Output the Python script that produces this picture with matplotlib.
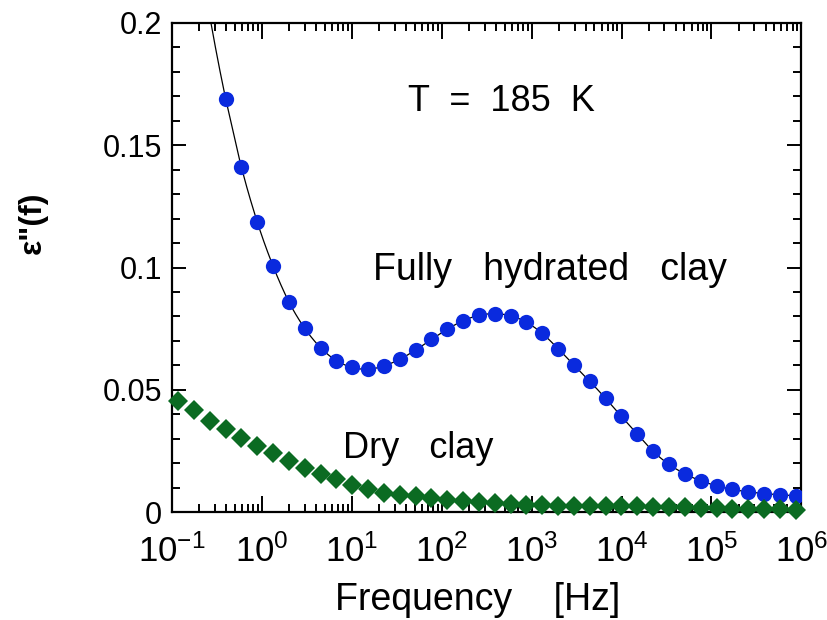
import matplotlib
matplotlib.use("Agg")
import matplotlib.pyplot as plt
import numpy as np
from matplotlib.ticker import FixedLocator, FuncFormatter, LogLocator, NullFormatter

# ---------------------------------------------------------------- data
# measuring frequencies [Hz]
freq = [0.117, 0.1755, 0.263, 0.395, 0.592, 0.888, 1.33, 2.00, 3.00, 4.50,
        6.75, 10.1, 15.2, 22.8, 34.2, 51.3, 76.9, 115, 173, 260,
        389, 584, 876, 1310, 1970, 2960, 4430, 6650, 9980, 15000,
        22400, 33700, 50500, 75800, 114000, 170000, 256000, 383000, 575000, 863000]

# fully hydrated clay (starts at the 4th frequency)
wet_freq = freq[3:]
wet_eps = [0.169, 0.141, 0.1186, 0.1006, 0.0859, 0.0751, 0.0672, 0.0619, 0.0592, 0.0584,
           0.0598, 0.0625, 0.0663, 0.0706, 0.0748, 0.0782, 0.0805, 0.0811, 0.0803, 0.0776,
           0.0731, 0.0668, 0.0601, 0.0535, 0.0465, 0.0391, 0.0319, 0.0249, 0.0195, 0.0157,
           0.0128, 0.0108, 0.0093, 0.0083, 0.0076, 0.0071, 0.0067]

# dry clay
dry_eps = [0.0455, 0.0417, 0.0373, 0.0338, 0.0301, 0.0270, 0.0241, 0.0210, 0.0180, 0.0157,
           0.0134, 0.0112, 0.0094, 0.0079, 0.0071, 0.0065, 0.0056, 0.0049, 0.0044, 0.0040,
           0.0037, 0.0034, 0.0031, 0.0029, 0.0027, 0.0027, 0.0025, 0.0025, 0.0024, 0.0024,
           0.0022, 0.0022, 0.0019, 0.0018, 0.0016, 0.0014, 0.0014, 0.0012, 0.0011, 0.0008]

y_ticks = [0, 0.05, 0.1, 0.15, 0.2]
x_decades = [-1, 0, 1, 2, 3, 4, 5, 6]

BLUE = "#0a2ade"
GREEN = "#0b6b22"
FONT = ["Liberation Sans", "DejaVu Sans"]

plt.rcParams.update({
    "font.family": FONT,
    "mathtext.fontset": "custom",
    "mathtext.rm": "Liberation Sans",
    "mathtext.it": "Liberation Sans:italic",
    "mathtext.bf": "Liberation Sans:bold",
    "mathtext.default": "regular",
})


def catmull_rom(x, y, n=24):
    """Smooth curve through the points (uniform Catmull-Rom)."""
    x = np.asarray(x, float)
    y = np.asarray(y, float)
    xp = np.concatenate([[2 * x[0] - x[1]], x, [2 * x[-1] - x[-2]]])
    yp = np.concatenate([[2 * y[0] - y[1]], y, [2 * y[-1] - y[-2]]])
    t = np.linspace(0, 1, n, endpoint=False)[:, None]
    out_x, out_y = [], []
    for i in range(len(x) - 1):
        for arr, out in ((xp, out_x), (yp, out_y)):
            p0, p1, p2, p3 = arr[i:i + 4]
            seg = 0.5 * (2 * p1 + (-p0 + p2) * t + (2 * p0 - 5 * p1 + 4 * p2 - p3) * t ** 2
                         + (-p0 + 3 * p1 - 3 * p2 + p3) * t ** 3)
            out.append(seg.ravel())
    out_x.append([x[-1]])
    out_y.append([y[-1]])
    return np.concatenate(out_x), np.concatenate(out_y)


fig = plt.figure(figsize=(8.27, 6.2), dpi=100)
ax = fig.add_axes([0.208, 0.174, 0.761, 0.789])

# fit line through the hydrated-clay points, extended to the top with the
# low-frequency power law of the first two points
lx, ly = catmull_rom(np.log10(wet_freq), wet_eps)
s = np.log(wet_eps[0] / wet_eps[1]) / np.log(wet_freq[1] / wet_freq[0])
ext_f = np.logspace(np.log10(wet_freq[0]) - 0.3, np.log10(wet_freq[0]), 30)
ext_v = wet_eps[0] * (ext_f / wet_freq[0]) ** (-s)
ax.plot(np.concatenate([ext_f, 10 ** lx]), np.concatenate([ext_v, ly]),
        color="black", lw=0.9, zorder=2)

ax.plot(wet_freq, wet_eps, "o", color=BLUE, ms=11, mew=0, zorder=3)
ax.plot(freq, dry_eps, "D", color=GREEN, ms=10, mew=0, zorder=3, clip_on=False)

ax.set_xscale("log")
ax.set_xlim(10 ** x_decades[0], 10 ** x_decades[-1])
ax.set_ylim(y_ticks[0], y_ticks[-1])

ax.xaxis.set_major_locator(FixedLocator([10.0 ** d for d in x_decades]))
ax.xaxis.set_major_formatter(FuncFormatter(lambda v, p: f"$10^{{{int(round(np.log10(v)))}}}$"))
ax.xaxis.set_minor_locator(LogLocator(base=10, subs=np.arange(2, 10)))
ax.xaxis.set_minor_formatter(NullFormatter())
ax.yaxis.set_major_locator(FixedLocator(y_ticks))
ax.yaxis.set_major_formatter(FuncFormatter(lambda v, p: f"{v:g}"))
ax.yaxis.set_minor_locator(FixedLocator(np.arange(0, 0.2001, 0.01)))

for side in ax.spines.values():
    side.set_linewidth(1.6)
ax.tick_params(which="both", direction="in", top=True, right=True, width=1.4, color="black")
ax.tick_params(axis="x", which="major", length=11.5, labelsize=25, pad=16)
ax.tick_params(axis="x", which="minor", length=6)
ax.tick_params(axis="y", which="major", length=10, labelsize=22, pad=7)
ax.tick_params(axis="y", which="minor", length=5.5)

fig.text(0.577, 0.016, "Frequency    [Hz]", fontsize=27, ha="center", va="baseline")
fig.text(0.04, 0.64, "ε\"(f)", rotation=90, fontsize=23, fontweight="bold",
         ha="center", va="center")

ax.text(0.375, 0.82, "T  =  185  K", transform=ax.transAxes, fontsize=26,
        ha="left", va="baseline")
ax.text(0.32, 0.474, "Fully   hydrated   clay", transform=ax.transAxes, fontsize=27,
        ha="left", va="baseline")
ax.text(0.272, 0.11, "Dry   clay", transform=ax.transAxes, fontsize=26,
        ha="left", va="baseline")

fig.savefig("out.png", dpi=100)
